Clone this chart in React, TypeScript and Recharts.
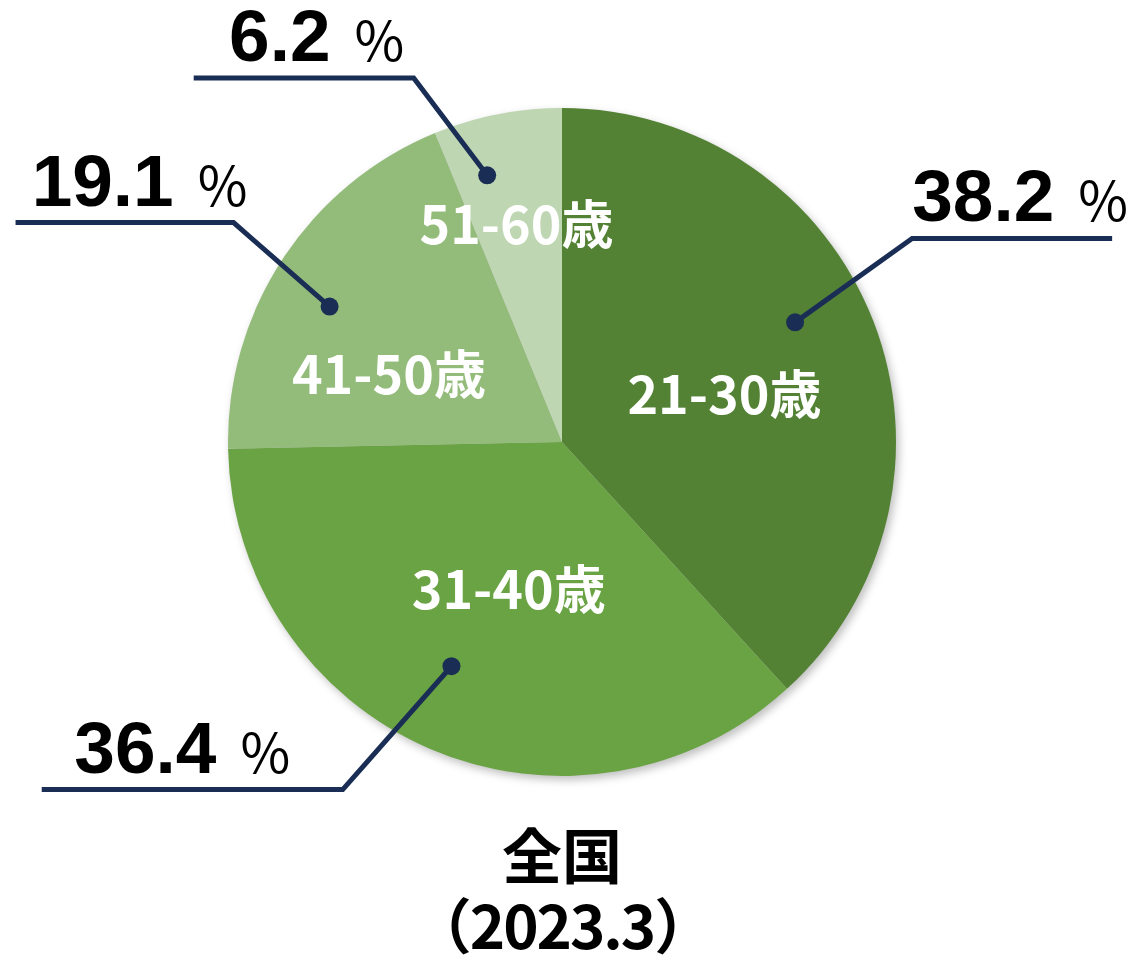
import { PieChart, Pie, Cell } from 'recharts';

const categories = ['21-30歳', '31-40歳', '41-50歳', '51-60歳'];
const shares = [38.2, 36.4, 19.1, 6.2];
const shareLabels = ['38.2', '36.4', '19.1', '6.2'];
const titleLines = ['全国', '（2023.3）'];

const colors = ['#548235', '#6aa343', '#93bb79', '#bfd6b3'];
const LINE = '#1a2e55';
const RAD = Math.PI / 180;

// label layout tweaks per slice (angle offsets in degrees, radii in px)
const innerShift = [-4, 3, 11, 0.5];
const innerR = [170, 154, 187, 225];
const dotShift = [6, -3, 3, 4.5];
const dotR = [262, 250, 269, 277];
const elbowShift = [9, -9, -0.5, 11];
const elbowR = [405, 411, 395, 393];
const tailLen = [200, 301, 218, 220];
const textShift = [8, -10, 15, 13];

const data = categories.map((name, i) => ({ name, value: shares[i], text: shareLabels[i] }));

const polar = (cx: number, cy: number, r: number, a: number) => ({
  x: cx + r * Math.cos(-a * RAD),
  y: cy + r * Math.sin(-a * RAD),
});

function renderLabel(props: any) {
  const { cx, cy, midAngle, index } = props;
  const inner = polar(cx, cy, innerR[index], midAngle + innerShift[index]);
  const dot = polar(cx, cy, dotR[index], midAngle + dotShift[index]);
  const elbow = polar(cx, cy, elbowR[index], midAngle + elbowShift[index]);
  const right = elbow.x > cx;
  const endX = right ? elbow.x + tailLen[index] : elbow.x - tailLen[index];
  const midX = (elbow.x + endX) / 2 + textShift[index];
  return (
    <g key={`lbl-${index}`}>
      <text
        x={inner.x}
        y={inner.y}
        textAnchor="middle"
        dominantBaseline="central"
        fill="#ffffff"
        fontSize={52}
        fontWeight={700}
        fontFamily="'Noto Sans CJK JP', 'Noto Sans', sans-serif"
      >
        {data[index].name}
      </text>
      <polyline
        points={`${dot.x},${dot.y} ${elbow.x},${elbow.y} ${endX},${elbow.y}`}
        fill="none"
        stroke={LINE}
        strokeWidth={5}
      />
      <circle cx={dot.x} cy={dot.y} r={9} fill={LINE} />
      <text x={midX} y={elbow.y - 17} textAnchor="middle" fill="#000">
        <tspan fontSize={73} fontWeight={700} fontFamily="'Liberation Sans', Arial, sans-serif">
          {data[index].text}
        </tspan>
        <tspan dx={24} fontSize={54} fontWeight={400} fontFamily="'Noto Sans CJK JP', sans-serif">
          %
        </tspan>
      </text>
    </g>
  );
}

export default function App() {
  return (
    <div style={{ width: 1135, height: 962, background: '#fff', position: 'relative', overflow: 'hidden' }}>
      <style>{'body{margin:0}'}</style>
      <PieChart width={1135} height={962} margin={{ top: 0, right: 0, bottom: 0, left: 0 }}>
        <Pie
          data={data}
          dataKey="value"
          cx={565}
          cy={446}
          outerRadius={334}
          startAngle={90}
          endAngle={-270}
          stroke="none"
          isAnimationActive={false}
        >
          {data.map((d) => (
            <Cell key={`sh-${d.name}`} fill="rgba(0,0,0,0.25)" style={{ filter: 'blur(4px)' }} />
          ))}
        </Pie>
        <Pie
          data={data}
          dataKey="value"
          cx={562}
          cy={442}
          outerRadius={334}
          startAngle={90}
          endAngle={-270}
          stroke="none"
          label={renderLabel}
          labelLine={false}
          isAnimationActive={false}
        >
          {data.map((d, i) => (
            <Cell key={d.name} fill={colors[i]} />
          ))}
        </Pie>
      </PieChart>
      <div
        style={{
          position: 'absolute',
          left: 0,
          top: 818,
          width: 1124,
          textAlign: 'center',
          fontFamily: "'Noto Sans CJK JP', sans-serif",
          fontWeight: 700,
          color: '#000',
        }}
      >
        <div style={{ fontSize: 60, lineHeight: '70px' }}>{titleLines[0]}</div>
        <div style={{ fontSize: 60, lineHeight: '70px', letterSpacing: -2 }}>{titleLines[1]}</div>
      </div>
    </div>
  );
}
